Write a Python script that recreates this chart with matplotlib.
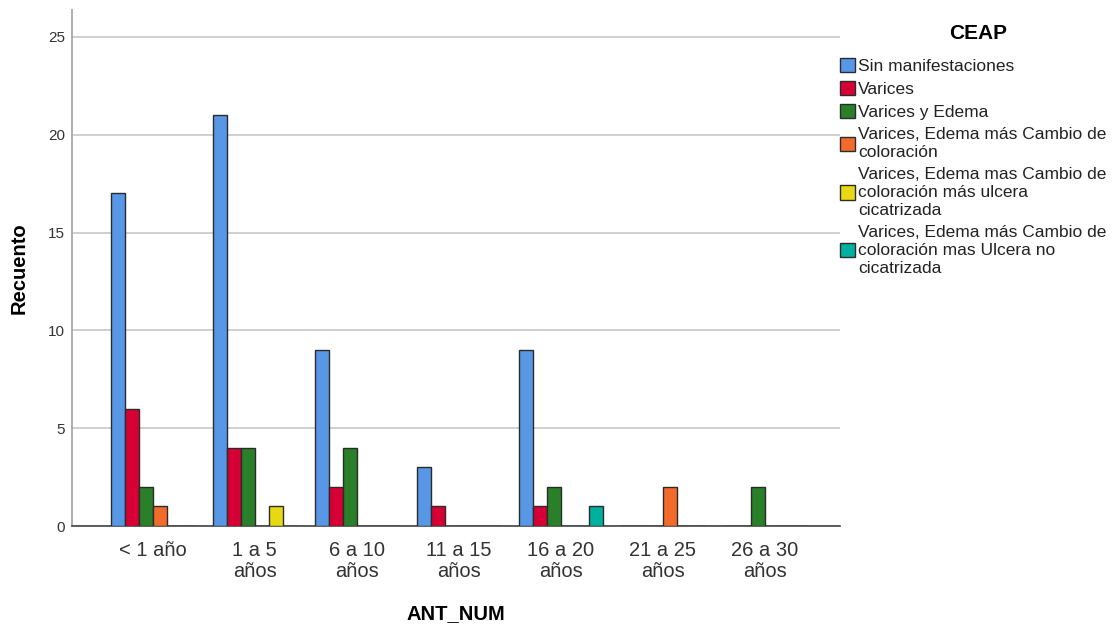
import numpy as np
import matplotlib.pyplot as plt

plt.rcParams['font.family'] = ['Liberation Sans', 'DejaVu Sans']

categorias = ['< 1 año', '1 a 5\naños', '6 a 10\naños', '11 a 15\naños',
              '16 a 20\naños', '21 a 25\naños', '26 a 30\naños']

sin_manifestaciones = [17, 21, 9, 3, 9, 0, 0]
varices = [6, 4, 2, 1, 1, 0, 0]
varices_edema = [2, 4, 4, 0, 2, 0, 2]
varices_edema_color = [1, 0, 0, 0, 0, 2, 0]
ulcera_cicatrizada = [0, 1, 0, 0, 0, 0, 0]
ulcera_no_cicatrizada = [0, 0, 0, 0, 1, 0, 0]

series = [sin_manifestaciones, varices, varices_edema, varices_edema_color,
          ulcera_cicatrizada, ulcera_no_cicatrizada]
etiquetas = ['Sin manifestaciones',
             'Varices',
             'Varices y Edema',
             'Varices, Edema más Cambio de\ncoloración',
             'Varices, Edema mas Cambio de\ncoloración más ulcera\ncicatrizada',
             'Varices, Edema más Cambio de\ncoloración mas Ulcera no\ncicatrizada']
colores = ['#5897e6', '#d70035', '#2a8029', '#f26b2a', '#e6d812', '#00b09e']

fig = plt.figure(figsize=(11.2, 6.24), dpi=100)
ax = fig.add_axes([0.0643, 0.157, 0.6857, 0.827])

x = np.arange(len(categorias))
w = 0.137
for i, (vals, lab, col) in enumerate(zip(series, etiquetas, colores)):
    ax.bar(x + (i - 2.5) * w, vals, w, color=col, edgecolor='#2b2b2b',
           linewidth=1.0, label=lab, zorder=3)

ax.set_ylim(0, 26.38)
ax.set_xlim(-0.79, 6.735)
ax.set_yticks([0, 5, 10, 15, 20, 25])
ax.set_xticks(x)
ax.set_xticklabels(categorias, fontsize=14.5, color='#333333', linespacing=1.08)
ax.tick_params(axis='x', length=0, pad=11)
ax.tick_params(axis='y', length=0, labelsize=11, labelcolor='#333333', pad=5)
ax.yaxis.grid(True, color='#cfcfcf', linewidth=1.4, zorder=0)
ax.set_axisbelow(True)

for s in ['top', 'right']:
    ax.spines[s].set_visible(False)
ax.spines['left'].set_color('#a0a0a0')
ax.spines['bottom'].set_color('#444444')
ax.spines['left'].set_linewidth(1.2)
ax.spines['bottom'].set_linewidth(1.2)

ax.set_ylabel('Recuento', fontsize=14.5, fontweight='bold', va='center')
ax.yaxis.set_label_coords(-0.069, 0.5)
ax.set_xlabel('ANT_NUM', fontsize=14.5, fontweight='bold', va='center')
ax.xaxis.set_label_coords(0.5, -0.169)

leg = fig.legend(loc='upper left', bbox_to_anchor=(0.744, 0.918), frameon=False,
                 fontsize=12.5, handlelength=0.87, handleheight=0.87,
                 handletextpad=0.17, labelspacing=0.4, borderaxespad=0)
for t in leg.get_texts():
    t.set_linespacing(1.25)
    t.set_color('#222222')
fig.text(0.873, 0.947, 'CEAP', fontsize=15, fontweight='bold', ha='center', va='center')

fig.savefig('out.png', dpi=100)
